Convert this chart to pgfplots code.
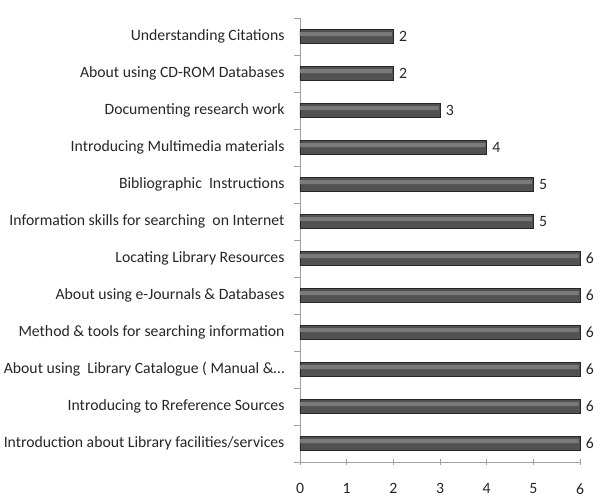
\documentclass[border=0pt]{standalone}
\usepackage{fontspec}
\setmainfont{Carlito}
\usepackage{pgfplots}
\usepackage{pgfplotstable}
\usetikzlibrary{calc}
\pgfplotsset{compat=1.18}
\pgfplotstableread{
val pos
6 0
6 1
6 2
6 3
6 4
6 5
5 6
5 7
4 8
3 9
2 10
2 11
}\sessions
\begin{document}
\begin{tikzpicture}
\begin{axis}[
  scale only axis,
  width=280bp, height=444bp,
  xmin=0, xmax=6,
  ymin=-0.5, ymax=11.5,
  axis x line=bottom, axis y line=left,
  axis line style={draw=gray!75, -},
  xtick={0,...,6},
  ytick={-0.5,0.5,...,11.5},
  yticklabels={},
  extra y ticks={0,...,11},
  extra y tick labels={
    Introduction about Library facilities/services,
    Introducing to Rreference Sources,
    {About using\ \ Library Catalogue ( Manual \&\ldots},
    Method \& tools for searching information,
    About using e-Journals \& Databases,
    Locating Library Resources,
    Information skills for searching\ \ on Internet,
    Bibliographic\ \ Instructions,
    Introducing Multimedia materials,
    Documenting research work,
    About using CD-ROM Databases,
    Understanding Citations},
  extra y tick style={major tick length=0pt, tick style={draw=none}},
  tick style={draw=gray!75, line width=0.6bp},
  major tick length=6bp,
  ytick align=outside,
  xtick align=center,
  tick label style={font=\fontsize{15.8}{18}\selectfont, text=black!85},
  yticklabel style={xshift=-12bp},
  xticklabel style={yshift=-15bp},
  /pgf/number format/assume math mode=true,
  clip=false,
]
% bar body
\addplot[xbar, bar width=13.5bp, draw=black!85, line width=0.9bp, fill=black!68,
  point meta=x, nodes near coords,
  nodes near coords style={font=\fontsize{15.8}{18}\selectfont, text=black!85, xshift=2bp}]
  table[x=val, y=pos] {\sessions};
% lighter band along the upper part of each bar
\addplot[xbar, bar width=4bp, bar shift=2.4bp, draw=none, fill=black!52]
  table[x expr=\thisrow{val}-0.03, y=pos] {\sessions};
\end{axis}
\pgfresetboundingbox
\path ($(current axis.south west)+(-300bp,-39bp)$) rectangle ($(current axis.north east)+(22bp,18bp)$);
\end{tikzpicture}
\end{document}
